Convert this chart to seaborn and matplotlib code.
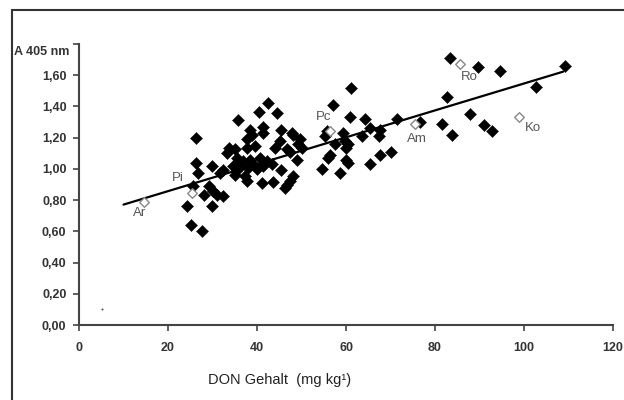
import numpy as np
import pandas as pd
import matplotlib
matplotlib.use("Agg")
import matplotlib.pyplot as plt
from matplotlib.patches import Rectangle
import seaborn as sns

# DON Gehalt (mg/kg) und Extinktion A 405 nm, gefüllte Rauten
don = [24.2, 25.2, 27.6, 29.9, 25.7, 28.1, 29.2, 30.2, 30.9, 32.4,
       26.4, 26.7, 29.8, 26.4, 32.4, 31.7, 33.2, 33.6, 34.7,
       35.1, 35.4, 35.1, 35.4, 35.8, 36.9, 36.2, 37.3, 37.7, 37.7,
       37.7, 37.9, 38.4, 38.8, 38.4, 39.2, 39.6, 39.9, 40.5, 40.7,
       41.3, 41.4, 41.4, 41.1, 42.2, 42.5, 43.3, 43.7, 44.0, 44.4,
       45.2, 45.4, 45.5, 46.7, 46.3, 47.4, 46.7, 48.2, 47.8, 48.2,
       49.7, 49.3, 50.0, 48.9, 47.4,
       54.5, 56.0, 56.4, 55.3, 55.7, 57.1, 57.5, 58.7, 59.4, 59.8,
       60.1, 60.5, 60.1, 60.5, 60.9, 61.1, 63.5, 64.3, 65.4, 65.4,
       67.6, 67.5, 67.6, 70.0, 71.4,
       76.6, 81.5, 83.9, 82.6, 83.4, 87.9, 89.6, 90.9, 92.7, 94.5,
       102.7, 109.2]
a405 = [0.76, 0.64, 0.60, 0.76, 0.89, 0.835, 0.89, 0.86, 0.835, 0.825,
        1.04, 0.975, 1.02, 1.195, 0.995, 0.975, 1.10, 1.135, 1.02,
        1.125, 1.07, 0.964, 0.995, 1.31, 1.05, 1.02, 0.954, 0.92, 1.19,
        1.135, 1.005, 1.25, 1.215, 1.06, 1.03, 1.146, 1.0, 1.366, 1.07,
        1.27, 1.227, 1.02, 0.91, 1.05, 1.425, 1.03, 0.915, 1.135, 1.36,
        1.18, 1.246, 0.995, 1.125, 0.877, 0.92, 0.90, 0.957, 1.23, 1.22,
        1.19, 1.157, 1.135, 1.06, 1.11,
        1.0, 1.07, 1.09, 1.21, 1.24, 1.41, 1.157, 0.975, 1.23, 1.18,
        1.135, 1.157, 1.06, 1.04, 1.33, 1.52, 1.21, 1.32, 1.26, 1.03,
        1.25, 1.21, 1.09, 1.11, 1.32,
        1.30, 1.29, 1.215, 1.46, 1.71, 1.35, 1.65, 1.28, 1.24, 1.63,
        1.527, 1.66]

# Referenzproben (offene Rauten)
ref_names = ["Ar", "Pi", "Pc", "Am", "Ro", "Ko"]
ref_don = [14.7, 25.5, 56.4, 75.5, 85.6, 98.8]
ref_a405 = [0.79, 0.845, 1.24, 1.285, 1.675, 1.33]
ref_label_x = [13.7, 22.2, 54.9, 76.0, 87.6, 101.9]
ref_label_y = [0.72, 0.94, 1.33, 1.19, 1.59, 1.26]

# Regressionsgerade
fit_x = [10.0, 108.8]
fit_slope = 0.00862
fit_intercept = 0.685

# einzelner Punkt unten links
stray_x = [5.1]
stray_y = [0.10]

sns.set_theme(style="ticks")
plt.rcParams["font.family"] = ["Liberation Sans", "DejaVu Sans"]

fig = plt.figure(figsize=(6.24, 4.0), dpi=100)
ax = fig.add_axes([79 / 624, 1 - 325 / 400, (613 - 79) / 624, (325 - 44) / 400])

df = pd.DataFrame({"don": don, "a405": a405})
sns.scatterplot(data=df, x="don", y="a405", marker="D", s=38, color="black",
                edgecolor="black", linewidth=0.3, ax=ax, zorder=3)

df_ref = pd.DataFrame({"don": ref_don, "a405": ref_a405})
sns.scatterplot(data=df_ref, x="don", y="a405", marker="D", s=24, color="white",
                edgecolor="#888888", linewidth=1.0, ax=ax, zorder=4)

df_fit = pd.DataFrame({"x": fit_x})
df_fit["y"] = fit_intercept + fit_slope * df_fit["x"]
sns.lineplot(data=df_fit, x="x", y="y", color="black", linewidth=1.6, ax=ax, zorder=2)

sns.scatterplot(x=stray_x, y=stray_y, marker="o", s=2, color="#444444",
                linewidth=0, ax=ax)

for name, lx, ly in zip(ref_names, ref_label_x, ref_label_y):
    ax.text(lx, ly, name, ha="center", va="center", fontsize=9.5, color="#555555")

ax.set_xlim(0, 120)
ax.set_ylim(0, 1.8)
ax.set_xticks(np.arange(0, 121, 20))
ax.set_yticks(np.arange(0, 1.81, 0.2))
ax.set_yticklabels([f"{v:.2f}".replace(".", ",") for v in np.arange(0, 1.61, 0.2)] + [""])
ax.set_xlabel("")
ax.set_ylabel("")
sns.despine(ax=ax)
for sp in ["left", "bottom"]:
    ax.spines[sp].set_color("#444444")
    ax.spines[sp].set_linewidth(1.5)
ax.tick_params(axis="both", direction="out", length=4, width=1.2, color="#444444",
               labelsize=9, labelcolor="#333333")
ax.tick_params(axis="x", pad=8)
ax.tick_params(axis="y", pad=5)
for lab in ax.get_xticklabels() + ax.get_yticklabels():
    lab.set_fontweight("bold")

fig.text(14 / 624, 1 - 52 / 400, "A 405 nm", ha="left", va="center",
         fontsize=9, fontweight="bold", color="#333333")
fig.text(280 / 624, 1 - 380 / 400, "DON Gehalt  (mg kg¹)", ha="center", va="center",
         fontsize=10.5, color="#222222")

# Rahmen um die Abbildung
fig.add_artist(Rectangle((12 / 624, -0.1), 1.2, 1.1 - 10 / 400, transform=fig.transFigure,
                         fill=False, edgecolor="#333333", linewidth=1.5))

fig.savefig("out.png", dpi=100)
